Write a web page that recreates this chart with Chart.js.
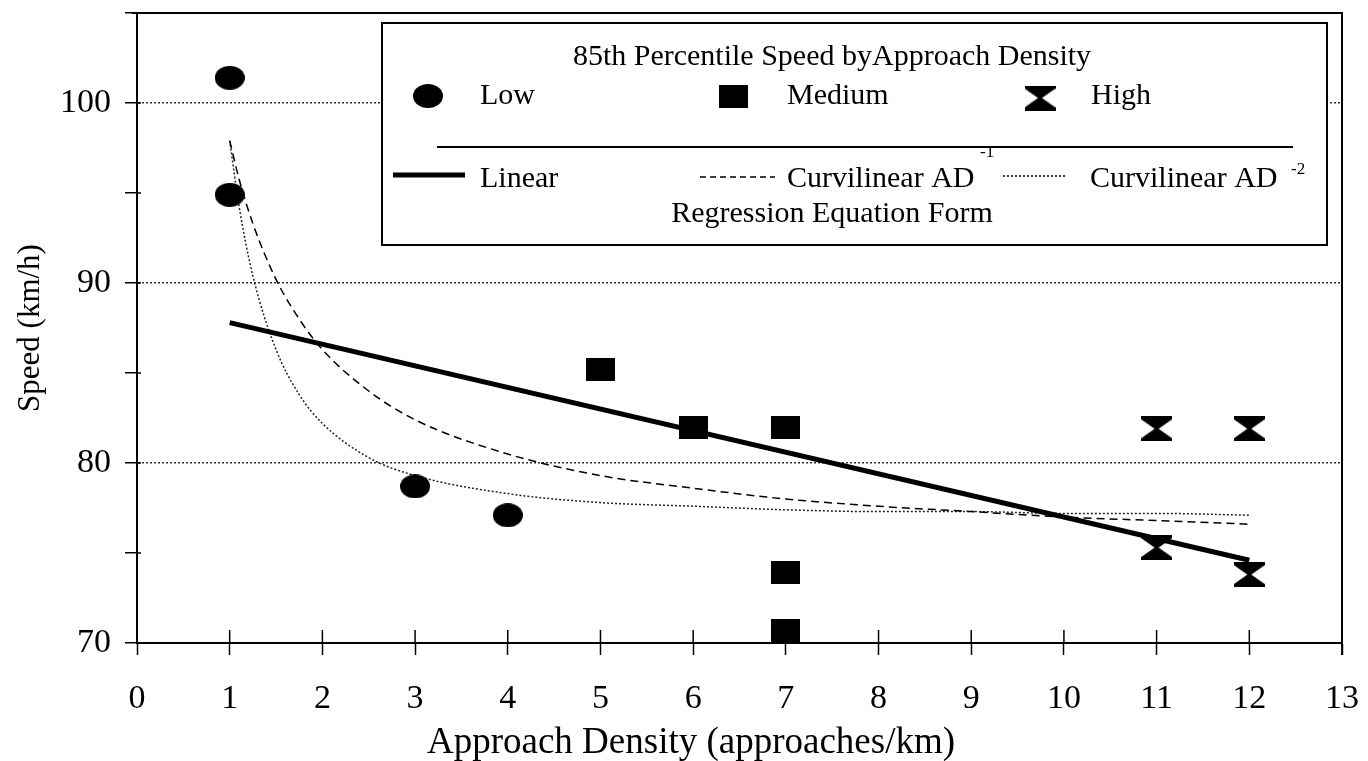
<!DOCTYPE html>
<html>
<head>
<meta charset="utf-8">
<script src="https://cdn.jsdelivr.net/npm/chart.js@4.4.1/dist/chart.umd.min.js"></script>
<style>
  html, body { margin: 0; padding: 0; background: #fff; }
  canvas { display: block; }
</style>
</head>
<body>
<canvas id="chart" width="1368" height="761"></canvas>
<script>
// 85th percentile speed by approach density
const lowX = [1, 1, 3, 4];
const lowSpeed = [101.4, 94.9, 78.7, 77.1];
const mediumX = [5, 6, 7, 7, 7];
const mediumSpeed = [85.2, 82.0, 82.0, 73.9, 70.7];
const highX = [11, 12, 11, 12];
const highSpeed = [81.9, 81.9, 75.3, 73.8];

// regression curves
const linearX = [1, 12];
const linearSpeed = [87.8, 74.6];
const curveX = [1, 1.1, 1.25, 1.5, 1.75, 2, 2.5, 3, 4, 5, 6, 7, 8, 9, 10, 11, 12];
const curveAD1 = [97.9, 95.8, 93.3, 90.2, 88.0, 86.3, 84.0, 82.4, 80.5, 79.3, 78.6, 78.0, 77.6, 77.3, 77.0, 76.8, 76.6];
const curveAD2 = [97.9, 94.3, 90.4, 86.3, 83.8, 82.2, 80.3, 79.3, 78.3, 77.8, 77.6, 77.4, 77.3, 77.3, 77.2, 77.2, 77.1];

const xTicks = [0, 1, 2, 3, 4, 5, 6, 7, 8, 9, 10, 11, 12, 13];
const yLabels = [70, 80, 90, 100];

const SERIF = "'Liberation Serif', 'Times New Roman', serif";

function pts(xs, ys) {
    return xs.map((x, i) => ({ x: x, y: ys[i] }));
}

function marker(w, h, draw) {
    const c = document.createElement("canvas");
    c.width = w;
    c.height = h;
    const g = c.getContext("2d");
    g.fillStyle = "#000";
    draw(g, w, h);
    return c;
}

const dot = marker(30, 24, (g, w, h) => {
    g.beginPath();
    g.ellipse(w / 2, h / 2, w / 2, h / 2, 0, 0, Math.PI * 2);
    g.fill();
});
const square = marker(29, 23, (g, w, h) => g.fillRect(0, 0, w, h));
const hourglass = marker(31, 25, (g, w, h) => {
    g.beginPath();
    g.moveTo(0, 0); g.lineTo(w, 0); g.lineTo(w, 3);
    g.lineTo(w / 2 + 2, h / 2); g.lineTo(w, h - 3); g.lineTo(w, h);
    g.lineTo(0, h); g.lineTo(0, h - 3); g.lineTo(w / 2 - 2, h / 2);
    g.lineTo(0, 3); g.closePath();
    g.fill();
});

// boxed legend, frame and inner tick marks
const extras = {
    id: "extras",
    afterDraw(chart) {
        const ctx = chart.ctx;
        const area = chart.chartArea;
        const xs = chart.scales.x;
        const ys = chart.scales.y;
        ctx.save();
        ctx.strokeStyle = "#000";

        // top and right frame
        ctx.lineWidth = 2;
        ctx.beginPath();
        ctx.moveTo(area.left - 5, area.top);
        ctx.lineTo(area.right, area.top);
        ctx.lineTo(area.right, area.bottom + 12);
        ctx.stroke();

        // tick marks crossing into the plot
        ctx.lineWidth = 1.5;
        ctx.beginPath();
        xTicks.forEach(v => {
            const px = xs.getPixelForValue(v);
            ctx.moveTo(px, area.bottom);
            ctx.lineTo(px, area.bottom - 13);
        });
        for (let v = 70; v < 105; v += 5) {
            const py = ys.getPixelForValue(v);
            ctx.moveTo(area.left, py);
            ctx.lineTo(area.left + 4, py);
        }
        ctx.stroke();

        // x axis title
        ctx.fillStyle = "#000";
        ctx.font = "37px " + SERIF;
        ctx.textAlign = "center";
        ctx.textBaseline = "alphabetic";
        ctx.fillText("Approach Density (approaches/km)", 691, 753);

        // legend box
        const bx = 382, by = 23, bw = 945, bh = 222;
        ctx.fillStyle = "#fff";
        ctx.fillRect(bx, by, bw, bh);
        ctx.lineWidth = 2;
        ctx.strokeRect(bx, by, bw, bh);

        ctx.fillStyle = "#000";
        ctx.font = "30px " + SERIF;
        ctx.textAlign = "center";
        ctx.fillText("85th Percentile Speed byApproach Density", 832, 65);
        ctx.fillText("Regression Equation Form", 832, 222);

        ctx.textAlign = "left";
        ctx.drawImage(dot, 428 - dot.width / 2, 96 - dot.height / 2);
        ctx.fillText("Low", 480, 104);
        ctx.drawImage(square, 733 - square.width / 2, 96 - square.height / 2);
        ctx.fillText("Medium", 787, 104);
        ctx.drawImage(hourglass, 1040 - hourglass.width / 2, 98 - hourglass.height / 2);
        ctx.fillText("High", 1091, 104);

        ctx.lineWidth = 2;
        ctx.beginPath();
        ctx.moveTo(437, 147);
        ctx.lineTo(1293, 147);
        ctx.stroke();

        ctx.lineWidth = 5;
        ctx.beginPath();
        ctx.moveTo(393, 175);
        ctx.lineTo(465, 175);
        ctx.stroke();
        ctx.fillText("Linear", 480, 187);

        ctx.lineWidth = 1.5;
        ctx.setLineDash([6, 4]);
        ctx.beginPath();
        ctx.moveTo(700, 177);
        ctx.lineTo(775, 177);
        ctx.stroke();
        ctx.fillText("Curvilinear AD", 787, 187);

        ctx.setLineDash([2, 2]);
        ctx.beginPath();
        ctx.moveTo(1003, 176);
        ctx.lineTo(1067, 176);
        ctx.stroke();
        ctx.setLineDash([]);
        ctx.fillText("Curvilinear AD", 1090, 187);

        ctx.font = "17px " + SERIF;
        ctx.fillText("-1", 980, 157);
        ctx.fillText("-2", 1291, 174);
        ctx.restore();
    }
};

const ctx = document.getElementById("chart").getContext("2d");

new Chart(ctx, {
    type: "scatter",
    data: {
        datasets: [
            {
                label: "Low",
                data: pts(lowX, lowSpeed),
                pointStyle: dot,
                pointRadius: 12,
                backgroundColor: "#000",
                borderColor: "#000",
            },
            {
                label: "Medium",
                data: pts(mediumX, mediumSpeed),
                pointStyle: square,
                pointRadius: 12,
                backgroundColor: "#000",
                borderColor: "#000",
            },
            {
                label: "High",
                data: pts(highX, highSpeed),
                pointStyle: hourglass,
                pointRadius: 12,
                backgroundColor: "#000",
                borderColor: "#000",
            },
            {
                type: "line",
                label: "Linear",
                data: pts(linearX, linearSpeed),
                borderColor: "#000",
                borderWidth: 5,
                pointRadius: 0,
                fill: false,
            },
            {
                type: "line",
                label: "Curvilinear AD-1",
                data: pts(curveX, curveAD1),
                borderColor: "#000",
                borderWidth: 1.5,
                borderDash: [8, 5],
                pointRadius: 0,
                cubicInterpolationMode: "monotone",
                fill: false,
            },
            {
                type: "line",
                label: "Curvilinear AD-2",
                data: pts(curveX, curveAD2),
                borderColor: "#222",
                borderWidth: 1.5,
                borderDash: [2, 2],
                pointRadius: 0,
                cubicInterpolationMode: "monotone",
                fill: false,
            },
        ]
    },
    options: {
        responsive: false,
        animation: false,
        layout: { padding: { top: 13, right: 26, left: 0, bottom: 0 } },
        plugins: {
            legend: { display: false },
            tooltip: { enabled: false },
        },
        scales: {
            x: {
                type: "linear",
                min: 0,
                max: 13,
                ticks: {
                    stepSize: 1,
                    color: "#000",
                    padding: 24,
                    font: { family: SERIF, size: 34 },
                },
                grid: {
                    drawOnChartArea: false,
                    tickLength: 12,
                    tickColor: "#000",
                    tickWidth: 1.5,
                },
                border: { color: "#000", width: 2 },
                afterFit: s => {
                    s.height = 118;
                    s.paddingLeft = 0;
                    s.paddingRight = 0;
                },
            },
            y: {
                min: 70,
                max: 105,
                ticks: {
                    stepSize: 5,
                    color: "#000",
                    padding: 14,
                    font: { family: SERIF, size: 34 },
                    callback: v => yLabels.includes(v) ? v : "",
                },
                grid: {
                    color: c => (c.tick && c.tick.value % 10 === 0 && c.tick.value > 70) ? "#333" : "rgba(0,0,0,0)",
                    lineWidth: 1.5,
                    tickLength: 12,
                    tickColor: "#000",
                    tickWidth: 1.5,
                    tickBorderDash: [],
                },
                border: { color: "#000", width: 2, dash: [2, 2] },
                title: {
                    display: true,
                    text: "Speed (km/h)",
                    color: "#000",
                    font: { family: SERIF, size: 31 },
                    padding: { top: 12, bottom: 0 },
                },
                afterFit: s => {
                    s.width = 137;
                    s.paddingTop = 0;
                    s.paddingBottom = 0;
                },
            },
        }
    },
    plugins: [extras]
});
</script>
</body>
</html>
